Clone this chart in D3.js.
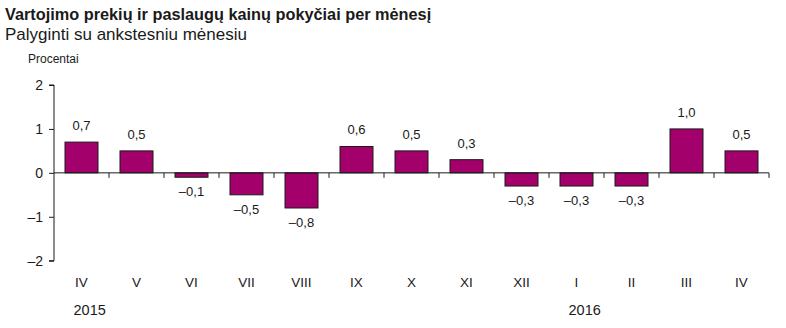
<!DOCTYPE html>
<html><head><meta charset="utf-8">
<script src="https://cdn.jsdelivr.net/npm/d3@7"></script>
<style>body{margin:0;background:#fff;} text{font-family:"Liberation Sans",Arial,sans-serif;fill:#1a1a1a;}</style>
</head><body>
<svg id="c" width="786" height="328"></svg>
<script>
const months = ["IV","V","VI","VII","VIII","IX","X","XI","XII","I","II","III","IV"];
const values = [0.7,0.5,-0.1,-0.5,-0.8,0.6,0.5,0.3,-0.3,-0.3,-0.3,1.0,0.5];
const years = [{label:"2015", index:0},{label:"2016", index:9}];
const yTicks = [-2,-1,0,1,2];
const title = "Vartojimo prekių ir paslaugų kainų pokyčiai per mėnesį";
const subtitle = "Palyginti su ankstesniu mėnesiu";
const unit = "Procentai";

(function(){
const svg = d3.select("#c");
const mLeft = 54, mRight = 769, mTop = 85, mBottom = 260.7;
const keys = months.map((m,i)=>i);
const x = d3.scaleBand().domain(keys).range([mLeft,mRight]).paddingInner(0.4).paddingOuter(0.2);
const y = d3.scaleLinear().domain([-2,2]).range([mBottom,mTop]);
const fmt = v => (v<0?"\u2013":"") + d3.format(".1f")(Math.abs(v)).replace(".",",");

svg.append("text").attr("x",5).attr("y",20).attr("font-size",16.3).attr("font-weight","bold").text(title);
svg.append("text").attr("x",5).attr("y",39.5).attr("font-size",17).text(subtitle);
svg.append("text").attr("x",28).attr("y",63).attr("font-size",12).text(unit);

svg.append("g").selectAll("rect").data(values).join("rect")
  .attr("x",(d,i)=>x(i)).attr("width",x.bandwidth())
  .attr("y",d=>y(Math.max(0,d))).attr("height",d=>Math.abs(y(d)-y(0)))
  .attr("fill","#a3006b").attr("stroke","#1a1a1a").attr("stroke-width",1);

svg.append("g").selectAll("text").data(values).join("text")
  .attr("x",(d,i)=>x(i)+x.bandwidth()/2)
  .attr("y",d=>d>=0 ? y(d)-12 : y(d)+19)
  .attr("text-anchor","middle").attr("font-size",13).text(fmt);

const yAxis = d3.axisLeft(y).tickValues(yTicks).tickSize(5).tickPadding(6).tickFormat(d=>d<0?"\u2013"+Math.abs(d):d);
const gy = svg.append("g").attr("transform",`translate(${mLeft},0)`).call(yAxis);
gy.select(".domain").attr("d",`M-5,${mTop}H0V${mBottom}H-5`).attr("stroke","#1a1a1a");
gy.selectAll(".tick line").attr("stroke","#1a1a1a");
gy.selectAll(".tick text").attr("font-size",14).attr("font-family","Liberation Sans, Arial, sans-serif").attr("fill","#1a1a1a");

const step = x.step();
const bounds = d3.range(1, months.length+1).map(i=>mLeft + i*step);
svg.append("line").attr("x1",mLeft).attr("x2",mRight).attr("y1",y(0)).attr("y2",y(0)).attr("stroke","#1a1a1a");
svg.append("g").selectAll("line").data(bounds).join("line")
  .attr("x1",d=>d).attr("x2",d=>d).attr("y1",y(0)).attr("y2",y(0)+5).attr("stroke","#1a1a1a");

svg.append("g").selectAll("text").data(months).join("text")
  .attr("x",(d,i)=>x(i)+x.bandwidth()/2).attr("y",287)
  .attr("text-anchor","middle").attr("font-size",13.5).text(d=>d);

svg.append("g").selectAll("text").data(years).join("text")
  .attr("x",d=>x(d.index)+x.bandwidth()/2-8).attr("y",314.5)
  .attr("font-size",14.5).text(d=>d.label);
})();
</script>
</body></html>
